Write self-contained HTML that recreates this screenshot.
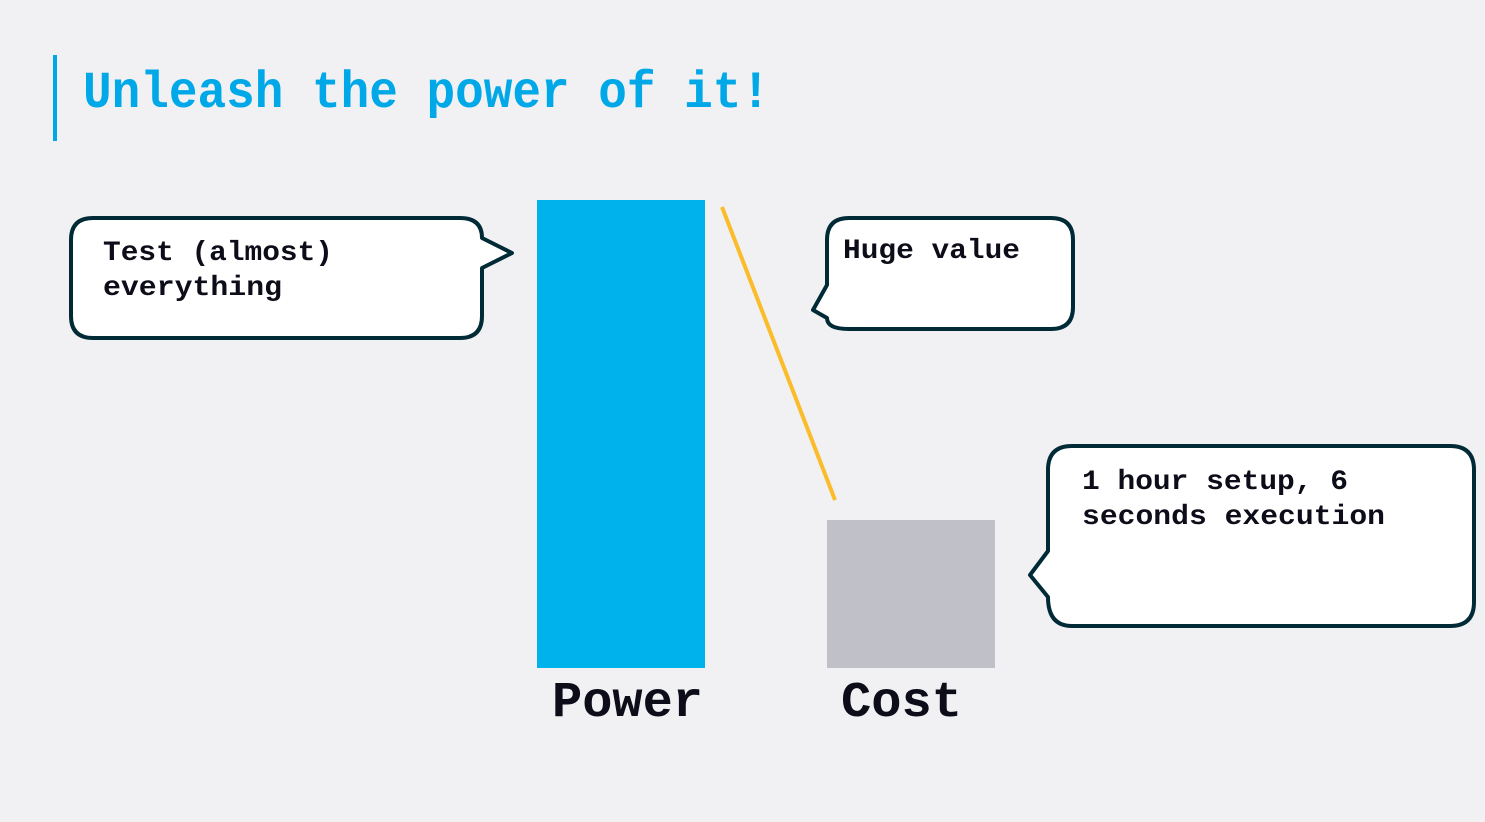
<!DOCTYPE html>
<html><head><style>html,body{margin:0;padding:0;background:#f1f1f3;}</style></head>
<body>
<svg width="1485" height="822" viewBox="0 0 1485 822" xmlns="http://www.w3.org/2000/svg" style="display:block">
<rect width="1485" height="822" fill="#f1f1f3"/>
<rect x="53" y="55" width="4" height="86" fill="#00a8e8"/>
<text x="83" y="107" font-family="Liberation Mono, monospace" font-weight="bold" font-size="52" fill="#00a8e8" textLength="687" lengthAdjust="spacingAndGlyphs">Unleash the power of it!</text>

<rect x="537" y="200" width="168" height="468" fill="#00b2ec"/>
<rect x="827" y="520" width="168" height="148" fill="#c0c0c8"/>
<line x1="722" y1="207" x2="835" y2="500" stroke="#fbbc2c" stroke-width="4"/>
<g font-family="Liberation Mono, monospace" font-weight="bold" fill="#0d0d1a">
<text x="552" y="716" font-size="50" textLength="151" lengthAdjust="spacingAndGlyphs">Power</text>
<text x="841" y="716" font-size="50" textLength="121" lengthAdjust="spacingAndGlyphs">Cost</text>
</g>

<g fill="#fff" stroke="#002b36" stroke-width="4" stroke-linejoin="round">
<path d="M93 218 H460 Q482 218 482 238 L512 253 L482 268 V316 Q482 338 460 338 H93 Q71 338 71 316 V240 Q71 218 93 218 Z"/>
<path d="M849 218 H1051 Q1073 218 1073 240 V307 Q1073 329 1051 329 H849 Q827 329 827 318 L813 310 L827 285 V240 Q827 218 849 218 Z"/>
<path d="M1072 446 H1450 Q1474 446 1474 470 V602 Q1474 626 1450 626 H1072 Q1048 626 1048 597 L1030 575 L1048 551 V470 Q1048 446 1072 446 Z"/>
</g>
<g font-family="Liberation Mono, monospace" font-weight="bold" font-size="28" fill="#0d0d1a">
<text x="103" y="260" textLength="230" lengthAdjust="spacingAndGlyphs">Test (almost)</text>
<text x="103" y="295" textLength="179" lengthAdjust="spacingAndGlyphs">everything</text>
<text x="843" y="258" textLength="177" lengthAdjust="spacingAndGlyphs">Huge value</text>
<text x="1082" y="489" textLength="266" lengthAdjust="spacingAndGlyphs">1 hour setup, 6</text>
<text x="1082" y="524" textLength="303" lengthAdjust="spacingAndGlyphs">seconds execution</text>
</g>
</svg>
</body></html>
